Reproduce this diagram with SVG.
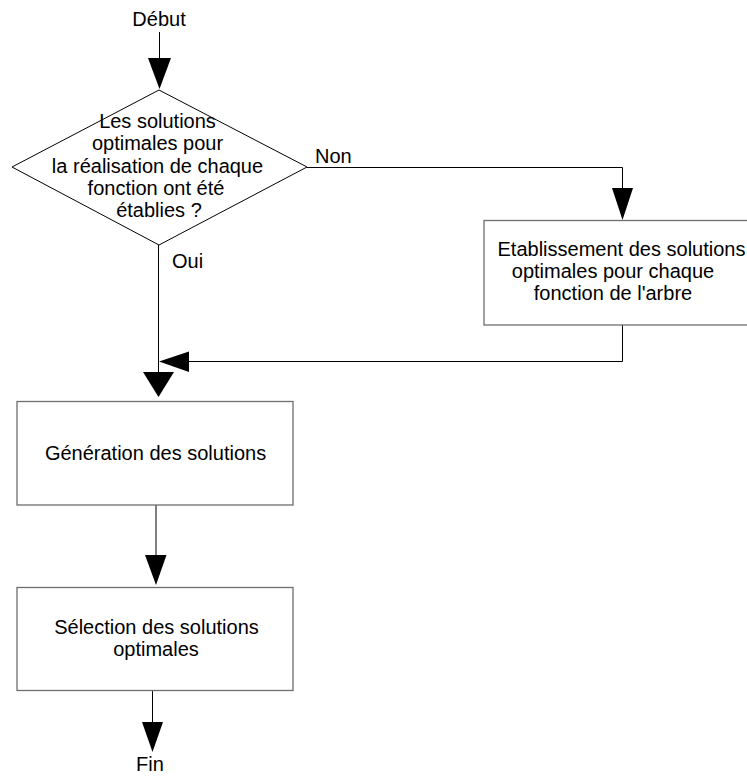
<svg xmlns="http://www.w3.org/2000/svg" width="747" height="776" viewBox="0 0 747 776">
  <style>
    text { font-family: "Liberation Sans", Arial, sans-serif; font-size: 20px; fill: #000; }
    .mid { text-anchor: middle; }
    .box { fill: #fff; stroke: #6e6e6e; stroke-width: 1.3; }
    .dec { fill: #fff; stroke: #000; stroke-width: 1; }
    .wire { fill: none; stroke: #000; stroke-width: 1; }
    .head { fill: #000; stroke: none; }
  </style>
  <rect width="747" height="776" fill="#fff"/>

  <!-- connectors -->
  <g id="connectors">
    <polyline class="wire" points="159.5,32 159.5,58"/>
    <polygon class="head" points="148,58 171,58 159.5,89"/>

    <polyline class="wire" points="307,167.5 622.5,167.5 622.5,188"/>
    <polygon class="head" points="612,188 633,188 622.5,220"/>

    <polyline class="wire" points="622.5,325 622.5,361.5 189,361.5"/>
    <polygon class="head" points="189,351.5 189,372 159,361.5"/>

    <polyline class="wire" points="158.5,245 158.5,372"/>
    <polygon class="head" points="143,372 174,372 158.5,397"/>

    <polyline class="wire" points="156,505 156,555"/>
    <polygon class="head" points="145,555 166.5,555 156,585"/>

    <polyline class="wire" points="152.5,691 152.5,722"/>
    <polygon class="head" points="142,722 163,722 152.5,752"/>

    <text x="315" y="163">Non</text>
    <text x="172" y="268">Oui</text>
  </g>

  <g id="start">
    <text class="mid" x="159" y="26">Début</text>
  </g>

  <g id="decision">
    <polygon class="dec" points="159,90 307,167 159,245 12,167"/>
    <text class="mid" x="157.5" y="128">Les solutions</text>
    <text class="mid" x="157.5" y="150">optimales pour</text>
    <text class="mid" x="157.5" y="173">la réalisation de chaque</text>
    <text class="mid" x="156" y="195">fonction ont été</text>
    <text class="mid" x="159" y="217">établies ?</text>
  </g>

  <g id="establish">
    <rect class="box" x="484" y="220.5" width="266" height="104.5"/>
    <text class="mid" x="621.5" y="256">Etablissement des solutions</text>
    <text class="mid" x="613" y="278">optimales pour chaque</text>
    <text class="mid" x="613" y="300">fonction de l'arbre</text>
  </g>

  <g id="generation">
    <rect class="box" x="17" y="401.5" width="276" height="103.5"/>
    <text class="mid" x="155.5" y="460">Génération des solutions</text>
  </g>

  <g id="selection">
    <rect class="box" x="17" y="587.5" width="276" height="103"/>
    <text class="mid" x="156.5" y="634">Sélection des solutions</text>
    <text class="mid" x="156" y="656">optimales</text>
  </g>

  <g id="end">
    <text class="mid" x="150" y="771">Fin</text>
  </g>
</svg>
